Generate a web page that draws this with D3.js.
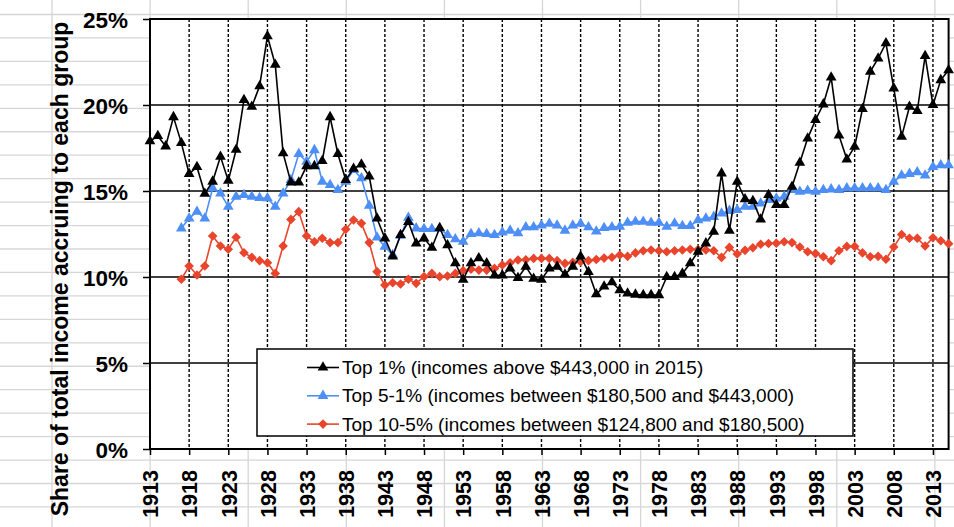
<!DOCTYPE html>
<html><head><meta charset="utf-8">
<script src="https://cdn.jsdelivr.net/npm/d3@7"></script>
<style>
body{margin:0;background:#fff;}
svg{display:block;font-family:"Liberation Sans",Arial,Helvetica,sans-serif;}
</style>
</head><body>
<svg id="chart" width="954" height="527"></svg>
<script>
// ---- DATA ----
const firstYear = 1913;
const lastYear = 2015;
const years = d3.range(firstYear, lastYear + 1);
const top1 = [17.9,18.2,17.6,19.3,17.8,16.0,16.4,14.85,15.55,17.0,15.6,17.4,20.3,19.9,21.1,24.0,22.35,17.2,15.5,15.5,
  16.45,16.45,16.75,19.3,17.15,15.65,16.3,16.55,15.85,13.4,12.25,11.2,12.45,13.2,11.95,12.25,11.7,12.85,11.85,10.8,
  9.85,10.8,11.1,10.8,10.1,10.1,10.5,9.95,10.6,9.9,9.85,10.5,10.6,10.15,10.6,11.2,10.3,9.0,9.45,9.7,
  9.24,9.05,8.98,8.95,8.95,8.95,10.0,10.0,10.2,10.8,11.47,11.96,12.64,16.03,12.69,15.54,14.52,14.42,13.35,14.77,
  14.19,14.19,15.25,16.65,18.06,19.13,20.04,21.6,18.23,16.84,17.58,19.77,21.94,22.71,23.59,20.97,18.16,19.9,19.65,22.85,
  20.0,21.45,22.03];
const seriesStart = 1917;
const top5to1 = [12.83,13.41,13.8,13.41,15.16,14.86,14.09,14.67,14.77,14.67,14.6,14.58,14.09,14.86,15.64,17.15,16.7,17.38,15.54,15.35,
  15.06,15.54,16.22,15.74,14.15,12.3,11.76,11.28,12.4,13.45,12.83,12.8,12.8,12.8,12.45,12.2,12.05,12.5,12.55,12.5,
  12.45,12.6,12.7,12.55,12.9,12.9,13.0,13.1,13.0,12.7,13.0,13.1,12.9,12.65,12.85,12.9,12.93,13.16,13.22,13.22,
  13.16,13.16,12.93,13.12,12.97,12.97,13.31,13.41,13.5,13.7,13.85,13.9,14.09,14.09,14.28,14.48,14.57,14.67,15.06,14.96,
  15.02,14.96,15.06,15.1,15.06,15.16,15.16,15.16,15.16,15.16,15.06,15.54,15.9,16.0,16.1,15.9,16.4,16.5,16.5];
const top10to5 = [9.87,10.64,10.12,10.64,12.38,11.8,11.61,12.31,11.41,11.14,10.95,10.83,10.21,11.8,13.35,13.8,12.38,12.05,12.25,12.0,
  12.0,12.77,13.31,13.12,12.0,10.31,9.53,9.67,9.59,9.87,9.63,10.02,10.21,10.02,10.06,10.21,10.37,10.45,10.4,10.4,
  10.5,10.7,10.83,10.99,11.0,11.08,11.08,11.08,10.95,10.79,10.85,10.89,10.95,11.02,11.1,11.15,11.28,11.2,11.4,11.53,
  11.57,11.53,11.47,11.53,11.57,11.61,11.6,11.57,11.53,11.14,11.72,11.34,11.55,11.7,11.9,11.95,11.96,12.05,12.0,11.74,
  11.47,11.36,11.18,10.95,11.53,11.78,11.78,11.4,11.18,11.2,11.03,11.74,12.47,12.25,12.25,11.8,12.28,12.11,11.94];
const xTickLabels = ["1913","1918","1923","1928","1933","1938","1943","1948","1953","1958","1963","1968","1973","1978","1983","1988","1993","1998","2003","2008","2013"];
const yTickValues = [0,5,10,15,20,25];
const legendLabels = [
  "Top 1% (incomes above $443,000 in 2015)",
  "Top 5-1% (incomes between $180,500 and $443,000)",
  "Top 10-5% (incomes between $124,800 and $180,500)"
];
const yTitle = "Share of total income accruing to each group";

// ---- CHART ----
const svg = d3.select("#chart");
const W = 954, H = 527;
const plot = {left:150, right:948.6, top:19, bottom:449};
const x = d3.scaleLinear().domain([firstYear, lastYear]).range([plot.left, plot.right]);
const y = d3.scaleLinear().domain([0, 25]).range([plot.bottom, plot.top]);

const colors = {top1:"#000000", mid:"#4d8ff6", low:"#e8452c"};

// spreadsheet background grid
const bg = svg.append("g");
for (let k = 0; k < 23; k++) {
  const yy = 14.5 + 23.45 * k;
  bg.append("line").attr("x1",0).attr("x2",W).attr("y1",yy).attr("y2",yy)
    .attr("stroke","#d6d6d6").attr("stroke-width",1.3);
}
for (let k = 0; k < 10; k++) {
  const xx = 52 + 98.1 * k;
  bg.append("line").attr("x1",xx).attr("x2",xx).attr("y1",0).attr("y2",H)
    .attr("stroke","#d6d6d6").attr("stroke-width",1.3);
}

// plot background
svg.append("rect").attr("x",plot.left).attr("y",plot.top)
  .attr("width",plot.right-plot.left).attr("height",plot.bottom-plot.top).attr("fill","#fff");

// horizontal gridlines
svg.append("g").selectAll("line").data(yTickValues.filter(v=>v>0 && v<25)).join("line")
  .attr("x1",plot.left).attr("x2",plot.right).attr("y1",d=>y(d)).attr("y2",d=>y(d))
  .attr("stroke","#000").attr("stroke-width",1.5);

// vertical dashed gridlines
svg.append("g").selectAll("line").data(xTickLabels.slice(1)).join("line")
  .attr("x1",d=>x(+d)).attr("x2",d=>x(+d)).attr("y1",plot.top).attr("y2",plot.bottom)
  .attr("stroke","#000").attr("stroke-width",1.4).attr("stroke-dasharray","3,2");

// axes
const xAxis = d3.axisBottom(x).tickValues(xTickLabels.map(Number)).tickFormat(d=>String(d)).tickSize(6).tickSizeOuter(0);
const gx = svg.append("g").attr("transform",`translate(0,${plot.bottom})`).call(xAxis);
gx.select(".domain").remove();
gx.selectAll(".tick line").attr("stroke","#000").attr("stroke-width",1.5);
gx.selectAll(".tick text")
  .attr("font-family","Liberation Sans, Arial, sans-serif")
  .attr("font-size",21.5).attr("font-weight","bold").attr("fill","#000")
  .attr("text-anchor","end").attr("y",0).attr("dy","0.36em")
  .attr("transform","translate(0,21) rotate(-90)");

const yAxis = d3.axisLeft(y).tickValues(yTickValues).tickFormat(d=>d+"%").tickSize(7).tickSizeOuter(0);
const gy = svg.append("g").attr("transform",`translate(${plot.left},0)`).call(yAxis);
gy.select(".domain").remove();
gy.selectAll(".tick line").attr("stroke","#000").attr("stroke-width",1.5);
gy.selectAll(".tick text")
  .attr("font-family","Liberation Sans, Arial, sans-serif")
  .attr("font-size",22.5).attr("font-weight","bold").attr("fill","#000")
  .attr("x",-22).attr("dy","0.36em");

// plot border
svg.append("rect").attr("x",plot.left).attr("y",plot.top)
  .attr("width",plot.right-plot.left).attr("height",plot.bottom-plot.top)
  .attr("fill","none").attr("stroke","#000").attr("stroke-width",2);

// y title
svg.append("text").attr("transform","translate(68,269) rotate(-90)")
  .attr("text-anchor","middle").attr("font-size",23).attr("font-weight","bold")
  .attr("fill","#000").text(yTitle);

// series
const triangle = d3.symbol().type(d3.symbolTriangle).size(50);
const diamondPath = "M0,-4.8L4.8,0L0,4.8L-4.8,0Z";
const line = d3.line().x(d=>x(d.year)).y(d=>y(d.v));

function series(vals, start, color, marker) {
  const data = vals.map((v,i)=>({year:start+i, v}));
  const g = svg.append("g");
  g.append("path").datum(data).attr("d",line).attr("fill","none")
    .attr("stroke",color).attr("stroke-width",1.6);
  g.selectAll("path.m").data(data).join("path").attr("class","m")
    .attr("transform",d=>`translate(${x(d.year)},${y(d.v)})`)
    .attr("d", marker==="tri" ? triangle() : diamondPath)
    .attr("fill",color);
}
series(top10to5, seriesStart, colors.low, "dia");
series(top5to1, seriesStart, colors.mid, "tri");
series(top1, firstYear, colors.top1, "tri");

// legend
const lg = svg.append("g");
lg.append("rect").attr("x",257).attr("y",349).attr("width",596).attr("height",87)
  .attr("fill","#fff").attr("stroke","#000").attr("stroke-width",1.5);
const legendColors = [colors.top1, colors.mid, colors.low];
const legendMarkers = ["tri","tri","dia"];
legendLabels.forEach((lab,i)=>{
  const yy = 367.5 + i*28.3;
  lg.append("line").attr("x1",307).attr("x2",339).attr("y1",yy).attr("y2",yy)
    .attr("stroke",legendColors[i]).attr("stroke-width",1.6);
  lg.append("path").attr("transform",`translate(323,${yy})`)
    .attr("d", legendMarkers[i]==="tri" ? triangle() : diamondPath).attr("fill",legendColors[i]);
  lg.append("text").attr("x",342).attr("y",yy).attr("dy","0.35em")
    .attr("font-size",19).attr("fill","#000").text(lab);
});
</script>
</body></html>
